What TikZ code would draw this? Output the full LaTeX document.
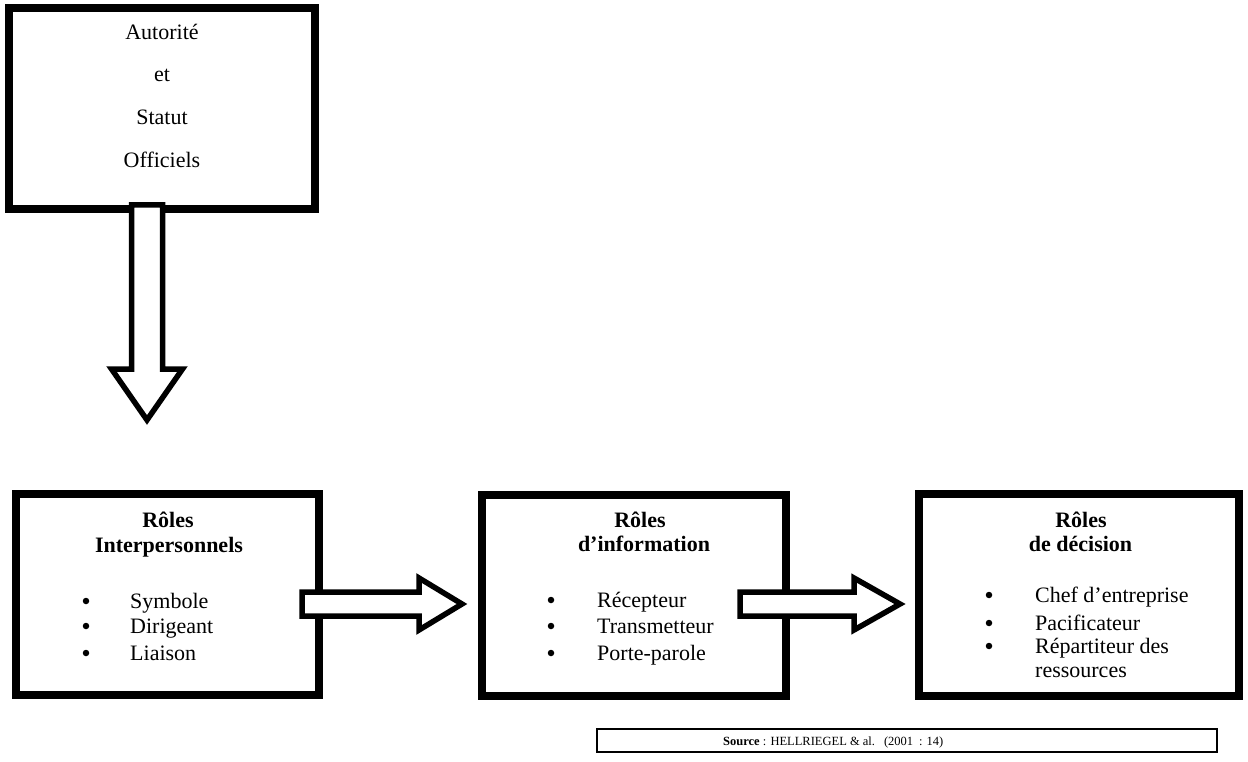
\documentclass[tikz,border=0pt]{standalone}
\usepackage{fontspec}
\setmainfont{Liberation Serif}
\usetikzlibrary{calc}
\begin{document}
\begin{tikzpicture}[x=1pt,y=-1pt,
  frame/.style={draw=black, line width=8pt, fill=white, inner sep=0pt},
  blockarrow/.style={draw=black, line width=5.5pt, fill=white, line join=miter},
  txt/.style={inner sep=0pt, anchor=base, font=\fontsize{22}{26}\selectfont},
  headtxt/.style={txt, font=\fontsize{22}{26}\selectfont\bfseries},
  itemtxt/.style={txt, anchor=base west},
  bullet/.style={circle, fill=black, inner sep=0pt, minimum size=6.5pt}]
\useasboundingbox (0,0) rectangle (1248,762);

% status box
\node[frame, minimum width=306pt, minimum height=201pt] (top) at (162,108.5) {};
\node[txt] (t1) at (162,40) {Autorité};
\node[txt] (t2) at (162,82) {et};
\node[txt] (t3) at (162,125) {Statut};
\node[txt] (t4) at (162,168) {Officiels};

% three role boxes
\node[frame, minimum width=303pt, minimum height=201pt] (b1) at (167.5,594.5) {};
\node[frame, minimum width=304pt, minimum height=201pt] (b2) at (634,595.5) {};
\node[frame, minimum width=320pt, minimum height=202pt] (b3) at (1079,595) {};

% interpersonal roles
\node[headtxt] (h1a) at (168,527) {Rôles};
\node[headtxt] (h1b) at (169,552) {Interpersonnels};
\node[bullet] (d11) at (86,601) {};
\node[bullet] (d12) at (86,626) {};
\node[bullet] (d13) at (86,653) {};
\node[itemtxt] (i11) at (130,608) {Symbole};
\node[itemtxt] (i12) at (130,633) {Dirigeant};
\node[itemtxt] (i13) at (130,660) {Liaison};

% information roles
\node[headtxt] (h2a) at (640,527) {Rôles};
\node[headtxt] (h2b) at (644,551) {d’information};
\node[bullet] (d21) at (551,600) {};
\node[bullet] (d22) at (551,626) {};
\node[bullet] (d23) at (551,653) {};
\node[itemtxt] (i21) at (597,607) {Récepteur};
\node[itemtxt] (i22) at (597,633) {Transmetteur};
\node[itemtxt] (i23) at (597,660) {Porte-parole};

% decision roles
\node[headtxt] (h3a) at (1081,527) {Rôles};
\node[headtxt] (h3b) at (1080.5,551) {de décision};
\node[bullet] (d31) at (989,595) {};
\node[bullet] (d32) at (989,623) {};
\node[bullet] (d33) at (989,646) {};
\node[itemtxt] (i31) at (1035,602) {Chef d’entreprise};
\node[itemtxt] (i32) at (1035,630) {Pacificateur};
\node[itemtxt] (i33) at (1035,653) {Répartiteur des};
\node[itemtxt] (i34) at (1035,677) {ressources};

% source line
\node[draw=black, line width=1.2pt, minimum width=620pt, minimum height=23pt, inner sep=0pt] (src) at (907,740.5) {};
\node[inner sep=0pt, anchor=base west, font=\fontsize{12.5}{14}\selectfont] (srct) at (723,745)
  {\textbf{Source} : HELLRIEGEL \& al.\hspace{9pt}(2001\hspace{6pt}:\hspace{4pt}14)};

% downward block arrow out of the status box
\coordinate (dn) at ($(top.south)+(-15,0)$);
\draw[blockarrow] ($(dn)+(-15.5,-8)$) -- ($(dn)+(15.5,-8)$) -- ($(dn)+(15.5,156)$)
  -- ($(dn)+(35.5,156)$) -- ($(dn)+(0,207)$) -- ($(dn)+(-35.5,156)$)
  -- ($(dn)+(-15.5,156)$) -- cycle;

% block arrow between interpersonal and information roles
\coordinate (a1s) at ($(b1.east)+(-21,9.5)$);
\coordinate (a1t) at ($(b2.west)+(-16,8.5)$);
\draw[blockarrow] ($(a1s)+(0,-12)$) -- ($(a1t)+(-43,-12)$) -- ($(a1t)+(-43,-26)$)
  -- (a1t) -- ($(a1t)+(-43,26)$) -- ($(a1t)+(-43,12)$) -- ($(a1s)+(0,12)$) -- cycle;

% block arrow between information and decision roles
\coordinate (a2s) at ($(b2.east)+(-50,8.5)$);
\coordinate (a2t) at ($(b3.west)+(-15,9)$);
\draw[blockarrow] ($(a2s)+(0,-12)$) -- ($(a2t)+(-46,-12)$) -- ($(a2t)+(-46,-26)$)
  -- (a2t) -- ($(a2t)+(-46,26)$) -- ($(a2t)+(-46,12)$) -- ($(a2s)+(0,12)$) -- cycle;
\end{tikzpicture}
\end{document}
